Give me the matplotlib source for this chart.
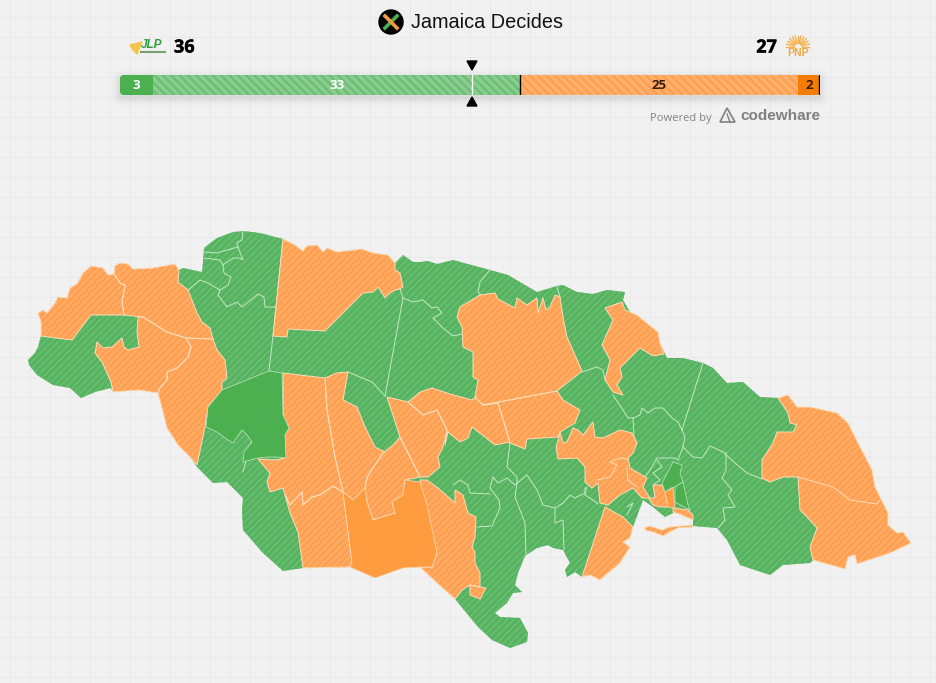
import math
import matplotlib
matplotlib.use('Agg')
import matplotlib.pyplot as plt
from matplotlib.patches import Polygon, FancyBboxPatch, Circle
import matplotlib.patheffects as pe

W, H = 937, 683
party_names = ['JLP', 'PNP']
party_totals = [36, 27]
seat_segments = [3, 33, 25, 2]
majority_mark = 31.7

island = [(38,313),(43,310),(47,313),(55,303),(58,297),(67,298),(70,288),(77,284),(83,273),(91,266),(103,268),(108,275),(114,274),(115,266),(120,263),(128,264),(133,269),(153,268),(175,264),(179,270),(183,268),(202,272),(203,262),(204,248),(217,238),(233,232),(243,231),(260,233),(283,239),(295,245),(303,251),(307,246),(317,245),(323,252),(327,248),(337,252),(362,249),(373,253),(388,255),(395,263),(403,255),(413,262),(420,262),(428,261),(437,264),(453,260),(490,270),(508,275),(537,292),(557,286),(563,285),(577,292),(593,294),(607,290),(625,292),(623,300),(630,312),(658,332),(660,343),(667,358),(683,358),(703,363),(713,368),(727,383),(743,382),(760,397),(778,398),(788,395),(797,407),(810,407),(837,413),(848,423),(855,437),(872,470),(875,487),(888,513),(888,525),(897,533),(903,532),(911,543),(903,547),(890,553),(857,564),(855,555),(848,557),(845,569),(813,560),(810,563),(783,565),(770,575),(740,565),(727,540),(717,528),(693,526),(693,520),(675,512),(665,517),(653,507),(643,500),(633,527),(630,538),(623,542),(630,547),(620,563),(600,580),(590,575),(582,577),(575,572),(567,577),(565,570),(570,563),(563,550),(553,548),(548,545),(537,548),(525,556),(518,573),(515,585),(522,592),(513,593),(507,603),(495,613),(500,617),(520,618),(528,633),(527,642),(510,648),(492,640),(478,627),(455,599),(437,583),(420,567),(403,568),(375,578),(350,567),(303,568),(283,571),(262,552),(243,530),(242,510),(243,498),(227,482),(213,483),(197,467),(190,457),(178,445),(167,428),(163,412),(158,393),(139,390),(113,392),(111,388),(95,392),(81,398),(70,388),(53,385),(37,375),(29,365),(28,360),(35,353),(38,347),(41,336),(41,322)]

hatched_orange = [
 [(38,313),(43,310),(47,313),(55,303),(58,297),(67,298),(70,288),(77,284),(83,273),(91,266),(103,268),(108,275),(114,274),(120,283),(125,285),(122,302),(124,315),(91,315),(72,340),(41,336),(41,322)],
 [(114,274),(115,266),(120,263),(128,264),(133,269),(153,268),(175,264),(179,270),(178,282),(188,290),(197,313),(202,322),(210,328),(213,339),(186,338),(167,332),(143,317),(124,315),(122,302),(125,285),(120,283)],
 [(143,317),(167,332),(186,338),(191,347),(188,357),(177,368),(167,372),(167,380),(160,388),(158,393),(139,390),(113,392),(111,382),(102,362),(95,353),(97,342),(103,348),(112,347),(122,338),(124,347),(128,350),(139,347),(137,332),(138,317)],
 [(186,338),(213,339),(217,350),(225,360),(227,378),(222,382),(222,390),(208,407),(205,427),(197,465),(190,457),(178,445),(167,428),(163,412),(158,393),(160,388),(167,380),(167,372),(177,368),(188,357),(191,347)],
 [(283,239),(295,245),(303,251),(307,246),(317,245),(323,252),(327,248),(337,252),(362,249),(373,253),(388,255),(395,263),(395,270),(400,273),(403,287),(400,289),(395,290),(390,293),(385,298),(382,293),(378,287),(373,292),(363,293),(325,331),(288,329),(287,337),(273,336)],
 [(480,295),(495,293),(498,299),(515,308),(517,298),(527,305),(537,298),(538,313),(543,298),(546,310),(550,307),(555,295),(560,297),(563,317),(567,337),(582,371),(557,391),(483,405),(475,397),(478,380),(473,377),(473,352),(463,347),(462,327),(457,317),(460,307)],
 [(283,373),(325,378),(327,410),(335,457),(343,492),(333,486),(320,495),(312,497),(303,505),(302,492),(290,505),(285,495),(283,488),(270,492),(267,482),(270,473),(258,459),(275,460),(285,458),(285,433),(289,428),(283,417)],
 [(290,505),(302,492),(303,505),(312,497),(320,495),(333,486),(343,492),(352,563),(350,567),(303,568),(298,532),(290,513),(285,495)],
 [(325,378),(337,373),(348,372),(343,400),(357,407),(365,427),(375,447),(385,452),(383,453),(367,477),(365,488),(353,500),(343,492),(335,457),(327,410)],
 [(367,477),(383,453),(393,445),(400,437),(420,477),(405,480),(403,495),(392,502),(395,513),(373,520),(367,502),(365,488)],
 [(387,397),(408,402),(423,415),(437,410),(447,430),(443,447),(438,457),(440,467),(428,477),(420,477),(400,437)],
 [(408,402),(420,392),(432,388),(450,394),(472,400),(475,397),(483,405),(498,403),(510,442),(495,445),(472,427),(468,438),(460,442),(448,432),(445,445),(447,430),(437,410),(423,415)],
 [(483,405),(557,391),(563,400),(580,410),(575,423),(560,432),(558,437),(527,439),(525,449),(510,443),(498,403)],
 [(427,480),(438,488),(455,503),(455,490),(463,495),(468,513),(476,517),(475,537),(472,547),(475,552),(475,563),(480,573),(480,587),(470,585),(462,590),(455,599),(437,583),(420,567),(432,567),(437,553),(430,533),(424,517),(420,480)],
 [(470,585),(480,587),(486,588),(480,599),(470,595)],
 [(605,308),(622,302),(625,310),(637,315),(658,332),(660,343),(664,354),(653,356),(640,348),(620,368),(622,377),(617,385),(623,395),(613,392),(605,380),(610,360),(602,345),(613,320)],
 [(778,398),(788,395),(797,407),(810,407),(837,413),(848,423),(855,437),(872,470),(875,487),(888,513),(888,525),(897,533),(903,532),(911,543),(903,547),(890,553),(857,564),(855,555),(848,557),(845,569),(813,560),(810,547),(817,528),(807,517),(800,510),(798,477),(783,477),(770,482),(762,478),(762,460),(773,443),(777,432),(793,432),(797,425),(790,423),(788,413)],
 [(560,432),(563,443),(567,442),(573,428),(578,430),(583,435),(593,422),(595,437),(603,438),(620,430),(632,433),(637,443),(633,453),(628,458),(630,468),(647,478),(643,487),(650,498),(642,498),(633,488),(620,495),(608,505),(600,503),(598,483),(592,488),(585,482),(585,467),(577,458),(558,459),(556,448)],
 [(605,507),(623,517),(633,527),(630,538),(623,542),(630,547),(620,563),(600,580),(590,575),(582,577)],
 [(653,485),(662,485),(666,492),(668,507),(660,507),(653,505),(649,499),(655,497)],
 [(673,508),(688,510),(693,515),(693,520),(682,515),(673,512)],
 [(644,528),(650,526),(662,530),(670,527),(692,525),(693,527),(678,528),(670,532),(663,536),(653,532),(647,531)],
]
solid_orange = [
 [(343,492),(353,500),(365,488),(367,502),(373,520),(395,513),(392,502),(403,495),(405,480),(420,482),(427,505),(437,553),(432,567),(420,567),(403,568),(375,578),(350,567),(352,563)],
 [(665,492),(673,488),(675,508),(668,507)],
]
solid_green = [
 [(269,371),(282,373),(283,415),(289,428),(285,435),(286,458),(277,457),(268,457),(258,458),(243,462),(244,452),(252,442),(247,435),(242,430),(233,443),(225,438),(217,432),(206,427),(208,407),(222,390)],
 [(673,462),(682,465),(680,473),(683,482),(675,487),(671,488),(665,492),(662,483)],
 [(675,487),(683,482),(688,505),(690,510),(675,502)],
]
boundaries = [
 [(283,239),(273,336),(269,371)],
 [(243,231),(242,240),(237,243),(238,247),(220,252),(217,253),(204,252)],
 [(238,247),(243,260),(240,258),(233,258),(223,265),(220,260),(204,258)],
 [(223,265),(224,273),(231,277),(228,285),(220,290),(208,283),(200,280),(188,290)],
 [(220,290),(218,295),(227,307),(237,302),(242,307),(258,294),(264,297),(265,307),(275,307)],
 [(252,440),(243,472)],
 [(403,298),(385,396)],
 [(400,289),(403,298),(413,302),(423,300),(432,308),(437,307),(442,313),(433,318),(443,328),(453,336),(462,334)],
 [(490,270),(480,282),(478,292),(481,295)],
 [(557,287),(560,297)],
 [(348,372),(372,382),(385,396)],
 [(582,372),(597,367),(603,370),(605,380)],
 [(613,395),(623,410),(628,418),(633,418),(640,415),(642,408),(648,413),(655,408),(663,408),(672,418),(678,422),(682,430)],
 [(703,363),(682,430),(685,437),(683,447),(693,457),(702,458),(710,446),(723,452),(735,463),(747,473),(762,479)],
 [(726,452),(726,470),(722,478),(732,490),(728,495),(735,507),(723,508),(725,520),(718,528)],
 [(633,418),(634,437),(637,443)],
 [(683,447),(678,460),(675,458),(667,458),(657,458),(650,470),(645,477)],
 [(657,460),(662,467),(653,473),(660,480),(653,485)],
 [(510,443),(507,467),(517,477),(517,483)],
 [(493,477),(498,483),(507,478),(515,485),(527,475),(537,490),(543,505),(555,508),(563,503),(570,495),(575,498),(585,493),(587,487)],
 [(517,483),(515,497),(525,523),(526,555)],
 [(493,477),(490,488),(499,500),(500,508),(492,526),(477,527)],
 [(453,485),(460,480),(468,485),(470,493),(490,494)],
 [(555,508),(555,523),(563,520),(564,550)],
 [(627,507),(633,503),(627,515)],
 [(585,488),(585,495),(593,500),(598,504)],
]
orange_boundaries = [
 [(798,477),(833,487),(850,500),(877,504),(880,500)],
 [(597,480),(610,477),(617,465),(610,462),(620,458),(628,459)],
 [(627,468),(628,480),(637,487)],
]

BG = '#f1f1f1'
G_MAP, G_ST = '#55b25f', '#69bd71'
O_MAP, O_ST = '#ffa050', '#ffae6c'
G_SOLID, O_SOLID = '#4caf50', '#ff9c40'
G_EDGE, O_EDGE = '#c5e8c5', '#ffdcb8'
BOLD = [pe.withStroke(linewidth=0.3, foreground='black')]

fig = plt.figure(figsize=(W/100, H/100), dpi=100, facecolor=BG)
ax = fig.add_axes([0, 0, 1, 1])
ax.set_xlim(0, W); ax.set_ylim(H, 0); ax.axis('off')

for x in range(10, W, 20):
    ax.axvline(x, color='#e8e8e8', lw=0.6, zorder=0)
for y in range(17, H, 20):
    ax.axhline(y, color='#e8e8e8', lw=0.6, zorder=0)

plt.rcParams['hatch.linewidth'] = 1.3
MAP_HATCH = '/' * 5

def hatched(poly, face, stripe, edge=None, z=2):
    ax.add_patch(Polygon(poly, closed=True, facecolor=face, edgecolor=stripe, hatch=MAP_HATCH, lw=0, zorder=z))
    if edge:
        ax.add_patch(Polygon(poly, closed=True, facecolor='none', edgecolor=edge, lw=0.7, joinstyle='round', zorder=z + 0.1))

hatched(island, G_MAP, G_ST, z=1)
for b in boundaries:
    ax.plot(*zip(*b), color=G_EDGE, lw=0.7, zorder=1.5, solid_joinstyle='round')
for p in hatched_orange:
    hatched(p, O_MAP, O_ST, O_EDGE, z=2)
for p in solid_orange:
    ax.add_patch(Polygon(p, closed=True, facecolor=O_SOLID, edgecolor=O_EDGE, lw=0.5, zorder=3))
for p in solid_green:
    ax.add_patch(Polygon(p, closed=True, facecolor=G_SOLID, edgecolor=G_EDGE, lw=0.5, zorder=3))
for b in orange_boundaries:
    ax.plot(*zip(*b), color=O_EDGE, lw=0.7, zorder=2.5)

# title and icon
ax.add_patch(Circle((391, 22), 12, color='black', zorder=5))
ax.plot([385, 397], [28, 16], color='#4caf50', lw=2.6, zorder=6)
ax.plot([385, 397], [16, 28], color='#f39a3d', lw=2.6, zorder=7)
ax.text(411, 23, 'Jamaica Decides', family='Liberation Sans', fontsize=14.35, ha='left', va='center', color='#111111')

# party totals
num = dict(family='Open Sans', fontsize=13, fontweight='bold', color='black', va='center')
ax.text(174, 47.5, str(party_totals[0]), ha='left', path_effects=BOLD, **num)
ax.text(777, 47.5, str(party_totals[1]), ha='right', path_effects=BOLD, **num)
ax.text(141, 44.5, party_names[0], family='Liberation Sans', fontsize=8.5, fontweight='bold', style='italic', color='#2e9e3f', ha='left', va='center')
ax.plot([141, 165], [52, 52], color='#77a070', lw=1.5)
ax.add_patch(Polygon([(130, 45), (142, 42), (137, 54), (133, 50)], color='#f2c64d'))
for a in range(0, 181, 15):
    r = math.radians(a)
    ax.plot([798 + 4*math.cos(r), 798 + 11.5*math.cos(r)], [47 - 4*math.sin(r), 47 - 11.5*math.sin(r)], color='#f7b04c', lw=1)
ax.text(798, 52.5, party_names[1], family='Liberation Sans', fontsize=7.5, fontweight='bold', color='#f7a83c', ha='center', va='center')

# bar shadow
for grow, al in ((8, 0.012), (6, 0.016), (4, 0.022), (2, 0.03)):
    ax.add_patch(FancyBboxPatch((120 - grow, 78 - grow), 700 + 2*grow, 20 + 2*grow, boxstyle='round,pad=0,rounding_size=6', fc='black', ec='none', alpha=al, zorder=3))

bx = fig.add_axes([120/W, 1 - 95/H, 700/W, 20/H], zorder=6)
bx.set_xlim(0, sum(seat_segments)); bx.set_ylim(0, 1); bx.axis('off')
round_clip = FancyBboxPatch((120, 75), 700, 20, boxstyle='round,pad=0,rounding_size=4', transform=ax.transData)
seg_face = ['#4caf50', '#70bd77', '#ff9f4d', '#f57c00']
seg_stripe = [None, '#8ace8f', '#ffb070', None]
seg_text = ['white', 'white', '#3a1c08', '#3a1c08']
plt.rcParams['hatch.linewidth'] = 2.4
left = 0
for v, f, s, t in zip(seat_segments, seg_face, seg_stripe, seg_text):
    bars = bx.barh(0.5, v, left=left, height=1, color=f, edgecolor=s if s else f, hatch='\\' * 4 if s else None, lw=0)
    for bar in bars:
        bar.set_clip_path(round_clip)
    bx.text(left + v/2, 0.47, str(v), ha='center', va='center', family='Open Sans', fontsize=9.5, fontweight='bold', color=t)
    left += v
bx.axvline(seat_segments[0] + seat_segments[1], color='black', lw=1)
bx.axvline(sum(seat_segments) - 0.06, color='black', lw=1)
bx.axvline(majority_mark, color='white', lw=1)

ax.add_patch(Polygon([(467, 61), (477, 61), (472, 70)], color='black', zorder=8))
ax.add_patch(Polygon([(467, 106), (477, 106), (472, 97)], color='black', zorder=8))

# powered by
ax.text(650, 118, 'Powered by', family='Noto Sans', fontsize=8, color='#8a8a8a', ha='left', va='center')
ax.text(820, 115.5, 'codewhare', family='Liberation Sans', fontsize=11, fontweight='bold', color='#808080', ha='right', va='center')
ax.add_patch(Polygon([(727, 108), (735, 122), (720, 122)], facecolor='none', edgecolor='#808080', lw=1.2))
ax.plot([727, 730], [114, 122], color='#808080', lw=1)

fig.savefig('out.png', dpi=100, facecolor=BG)
